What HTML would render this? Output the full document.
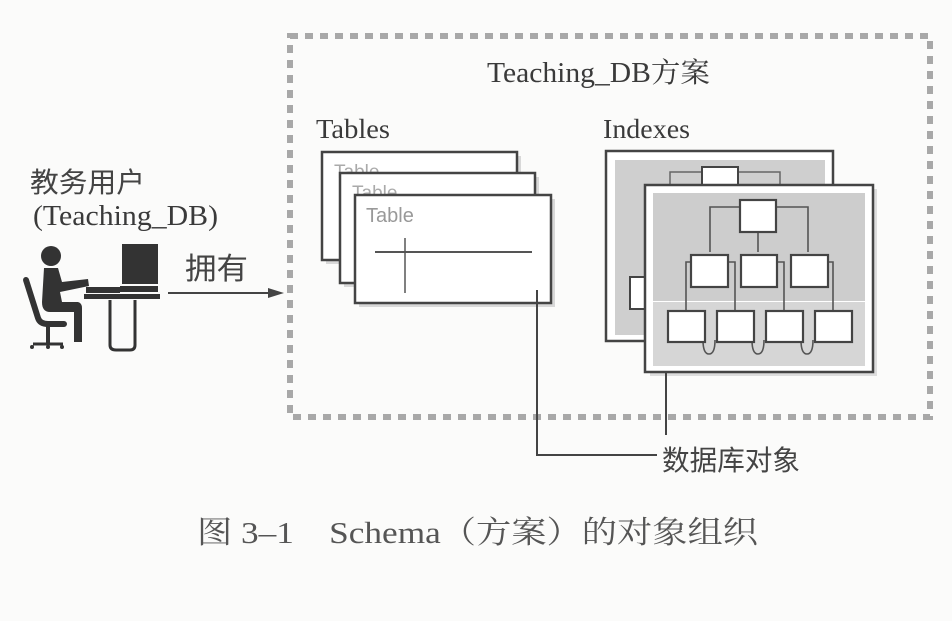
<!DOCTYPE html>
<html><head><meta charset="utf-8"><style>
html,body{margin:0;padding:0;background:#fbfbfa}
svg{display:block}
text{font-family:"Liberation Serif","Noto Serif CJK SC",serif;fill:#3a3a3a}
.s{font-family:"Liberation Sans","Noto Sans CJK SC",sans-serif}
</style></head><body>
<svg width="952" height="621" viewBox="0 0 952 621" xmlns="http://www.w3.org/2000/svg">
<rect x="0" y="0" width="952" height="621" fill="#fbfbfa"/>
<!-- dashed schema box -->
<rect x="290" y="36" width="640" height="381" fill="none" stroke="#a8a8a8" stroke-width="6" stroke-dasharray="8,7"/>
<text x="487" y="82" font-size="28" textLength="223" lengthAdjust="spacingAndGlyphs">Teaching_DB方案</text>
<text x="316" y="138" font-size="27" textLength="74" lengthAdjust="spacingAndGlyphs">Tables</text>
<text x="603" y="138" font-size="27" textLength="87" lengthAdjust="spacingAndGlyphs">Indexes</text>

<!-- tables -->
<rect x="326" y="156" width="195" height="108" fill="#d8d8d8"/>
<rect x="322" y="152" width="195" height="108" fill="#fff" stroke="#444" stroke-width="2.5"/>
<text x="334" y="178" font-size="19" class="s" style="fill:#aaa">Table</text>
<rect x="344" y="177" width="195" height="110" fill="#d8d8d8"/>
<rect x="340" y="173" width="195" height="110" fill="#fff" stroke="#444" stroke-width="2.5"/>
<text x="352" y="199" font-size="19" class="s" style="fill:#aaa">Table</text>
<rect x="359" y="199" width="196" height="108" fill="#d8d8d8"/>
<rect x="355" y="195" width="196" height="108" fill="#fff" stroke="#444" stroke-width="2.5"/>
<text x="366" y="222" font-size="20" class="s" style="fill:#999">Table</text>
<line x1="375" y1="252" x2="532" y2="252" stroke="#555" stroke-width="2"/>
<line x1="405" y1="238" x2="405" y2="293" stroke="#555" stroke-width="1.5"/>

<!-- indexes back -->
<rect x="606" y="151" width="227" height="190" fill="#fff" stroke="#444" stroke-width="2.5"/>
<rect x="615" y="160" width="210" height="175" fill="#cfcfcf"/>
<rect x="670" y="172" width="110" height="14" fill="none" stroke="#666" stroke-width="1.5"/>
<rect x="702" y="167" width="36" height="22" fill="#fff" stroke="#444" stroke-width="2"/>
<rect x="630" y="277" width="20" height="32" fill="#fff" stroke="#444" stroke-width="2"/>
<!-- indexes front -->
<rect x="650" y="189" width="227" height="187" fill="#ddd"/>
<rect x="645" y="185" width="228" height="187" fill="#fff" stroke="#444" stroke-width="2.5"/>
<rect x="653" y="193" width="212" height="108" fill="#cdcdcd"/>
<rect x="653" y="302" width="212" height="64" fill="#d6d6d6"/>
<g stroke="#555" stroke-width="1.6" fill="none">
<path d="M740 207 H710 V252 M776 207 H808 V252 M758 232 V252"/>
<path d="M691 262 H686 V310 M728 262 H735 V310 M777 262 H784 V310 M828 262 H833 V310"/>
<path d="M703 340 q0 14 6 14 q6 0 6 -14 M752 340 q0 14 6 14 q6 0 6 -14 M801 340 q0 14 6 14 q6 0 6 -14"/>
</g>
<g fill="#fff" stroke="#444" stroke-width="2.2">
<rect x="740" y="200" width="36" height="32"/>
<rect x="691" y="255" width="37" height="32"/>
<rect x="741" y="255" width="36" height="32"/>
<rect x="791" y="255" width="37" height="32"/>
<rect x="668" y="311" width="37" height="31"/>
<rect x="717" y="311" width="37" height="31"/>
<rect x="766" y="311" width="37" height="31"/>
<rect x="815" y="311" width="37" height="31"/>
</g>

<!-- connectors -->
<path d="M537 290 V455 H657" fill="none" stroke="#444" stroke-width="2"/>
<line x1="666" y1="372" x2="666" y2="435" stroke="#444" stroke-width="2"/>
<text x="662" y="470" font-size="28" class="s" style="fill:#444" textLength="138" lengthAdjust="spacingAndGlyphs">数据库对象</text>

<!-- user -->
<text x="30" y="192" font-size="28" class="s" style="fill:#444" textLength="115" lengthAdjust="spacingAndGlyphs">教务用户</text>
<text x="33" y="225" font-size="28" textLength="185" lengthAdjust="spacingAndGlyphs">(Teaching_DB)</text>
<g fill="#333" stroke="#333">
<circle cx="51" cy="256" r="10" stroke="none"/>
<path d="M44 268 H58 L62 282 L88 279 L89 286 L60 292 L62 302 H78 Q82 303 82 308 V342 H74 V312 H50 Q42 312 42 302 Z" stroke="none"/>
<path d="M26 280 L38 318 Q40 324 48 324 H64" fill="none" stroke-width="6" stroke-linecap="round"/>
<line x1="48" y1="324" x2="48" y2="344" stroke-width="4"/>
<path d="M33 344 H63" stroke-width="3"/>
<circle cx="32" cy="347" r="2" stroke="none"/><circle cx="48" cy="347" r="2" stroke="none"/><circle cx="62" cy="347" r="2" stroke="none"/>
<rect x="122" y="244" width="36" height="40" stroke="none"/>
<rect x="86" y="287" width="34" height="6" stroke="none"/>
<rect x="120" y="286" width="38" height="6" stroke="none"/>
<rect x="84" y="294" width="76" height="5" stroke="none"/>
<path d="M110 300 V345 Q110 350 116 350 H130 Q135 350 135 345 V300" fill="none" stroke-width="3"/>
</g>
<text x="185" y="279" font-size="30" class="s" style="fill:#444" textLength="63" lengthAdjust="spacingAndGlyphs">拥有</text>
<line x1="168" y1="293" x2="272" y2="293" stroke="#444" stroke-width="2"/>
<path d="M284 293 L268 288 L268 298 Z" fill="#444"/>

<!-- caption -->
<text x="197" y="543" font-size="31" style="fill:#555" textLength="561" lengthAdjust="spacingAndGlyphs">图 3–1　Schema（方案）的对象组织</text>
</svg>
</body></html>
